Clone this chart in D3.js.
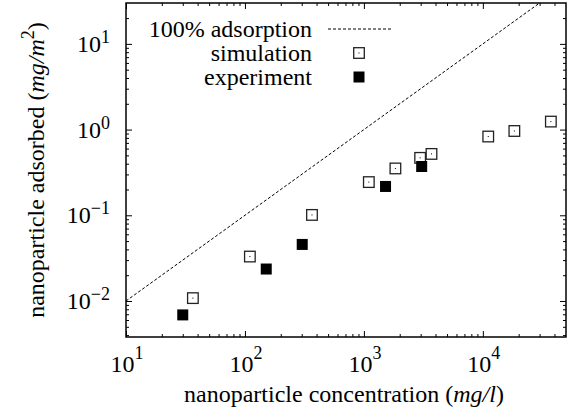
<!DOCTYPE html>
<html>
<head>
<meta charset="utf-8">
<script src="https://cdn.jsdelivr.net/npm/d3@7"></script>
<style>body{margin:0}</style>
</head>
<body>
<script>
// data
const simX = [36.5, 110, 366, 1100, 1840, 2970, 3700, 11100, 18400, 37300];
const simY = [0.0108, 0.033, 0.101, 0.244, 0.352, 0.468, 0.52, 0.83, 0.963, 1.24];
const expX = [30, 151, 303, 1520, 3060];
const expY = [0.00688, 0.0236, 0.0457, 0.217, 0.371];
// 100% adsorption line end points
const fullX = [10, 30000];
const fullY = [0.01, 30];

const xExps = [1, 2, 3, 4];
const yExps = [-2, -1, 0, 1];
const legendLabels = ["100% adsorption", "simulation", "experiment"];

const W = 574, H = 417;
const L = 126, R = 566, T = 3, B = 337;
const FONT = '"Liberation Serif", monospace';

const svg = d3.select("body").append("svg")
  .attr("width", W).attr("height", H);

const x = d3.scaleLog().domain([10, 5e4]).range([L, R]);
const y = d3.scaleLog().domain([0.0038, 30]).range([B, T]);

// minor tick values
function minors(scale) {
  const [a, b] = scale.domain();
  const out = [];
  for (let e = Math.floor(Math.log10(a)); e <= Math.ceil(Math.log10(b)); e++) {
    for (let m = 2; m <= 9; m++) {
      const v = m * Math.pow(10, e);
      if (v > a && v < b) out.push(v);
    }
  }
  return out;
}
const xMajor = xExps.map(e => Math.pow(10, e));
const yMajor = yExps.map(e => Math.pow(10, e));

function tickAxis(axisFn, scale, vals, size, tr) {
  svg.append("g")
    .attr("transform", tr)
    .call(axisFn(scale).tickValues(vals).tickSize(size).tickFormat(""))
    .call(g => g.select(".domain").remove())
    .call(g => g.selectAll("line").attr("stroke", "#000").attr("stroke-width", 1));
}
tickAxis(d3.axisBottom, x, xMajor, -6, `translate(0,${B})`);
tickAxis(d3.axisBottom, x, minors(x), -3, `translate(0,${B})`);
tickAxis(d3.axisTop, x, xMajor, -6, `translate(0,${T})`);
tickAxis(d3.axisTop, x, minors(x), -3, `translate(0,${T})`);
tickAxis(d3.axisLeft, y, yMajor, -6, `translate(${L},0)`);
tickAxis(d3.axisLeft, y, minors(y), -3, `translate(${L},0)`);
tickAxis(d3.axisRight, y, yMajor, -6, `translate(${R},0)`);
tickAxis(d3.axisRight, y, minors(y), -3, `translate(${R},0)`);

// frame
svg.append("rect")
  .attr("x", L).attr("y", T).attr("width", R - L).attr("height", B - T)
  .attr("fill", "none").attr("stroke", "#000").attr("stroke-width", 1.5);

// tick labels
const xl = svg.append("g").selectAll("text").data(xExps).enter().append("text")
  .attr("x", d => x(Math.pow(10, d)) + 1)
  .attr("y", B + 35)
  .attr("text-anchor", "middle")
  .attr("font-size", 24)
  .style("font-family", FONT);
xl.append("tspan").text("10");
xl.append("tspan").attr("dy", -13).attr("font-size", 18).text(d => d);

const yl = svg.append("g").selectAll("text").data(yExps).enter().append("text")
  .attr("x", 110)
  .attr("y", d => y(Math.pow(10, d)) + 8)
  .attr("text-anchor", "end")
  .attr("font-size", 24)
  .style("font-family", FONT);
yl.append("tspan").text("10");
yl.append("tspan").attr("dy", -9).attr("font-size", 18).text(d => d < 0 ? "\u2212" + (-d) : d);

// axis titles
const xt = svg.append("text")
  .attr("x", 344).attr("y", 402)
  .attr("text-anchor", "middle")
  .attr("font-size", 24)
  .style("font-family", FONT);
xt.append("tspan").text("nanoparticle concentration (");
xt.append("tspan").attr("font-style", "italic").text("mg/l");
xt.append("tspan").text(")");

const yt = svg.append("text")
  .attr("transform", `translate(43.5,${(T + B) / 2}) rotate(-90)`)
  .attr("text-anchor", "middle")
  .attr("font-size", 24)
  .style("font-family", FONT);
yt.append("tspan").text("nanoparticle adsorbed (");
yt.append("tspan").attr("font-style", "italic").text("mg/m");
yt.append("tspan").attr("dy", -10).attr("font-size", 18).text("2");
yt.append("tspan").attr("dy", 10).text(")");

// clip for plot contents
svg.append("clipPath").attr("id", "clip")
  .append("rect").attr("x", L).attr("y", T).attr("width", R - L).attr("height", B - T);
const plot = svg.append("g").attr("clip-path", "url(#clip)");

const line = d3.line().x(d => x(d[0])).y(d => y(d[1]));
plot.append("path")
  .datum(d3.zip(fullX, fullY))
  .attr("d", line)
  .attr("fill", "none").attr("stroke", "#000").attr("stroke-width", 1)
  .attr("stroke-dasharray", "3,2");

function openSquare(g, cx, cy) {
  g.append("rect").attr("x", cx - 5.3).attr("y", cy - 5.3).attr("width", 10.6).attr("height", 10.6)
    .attr("fill", "#fff").attr("stroke", "#222").attr("stroke-width", 1.3);
  g.append("rect").attr("x", cx - 0.5).attr("y", cy - 0.5).attr("width", 1).attr("height", 1)
    .attr("fill", "#000");
}
function filledSquare(g, cx, cy) {
  g.append("rect").attr("x", cx - 5.5).attr("y", cy - 5.5).attr("width", 11).attr("height", 11)
    .attr("fill", "#000");
}

d3.zip(simX, simY).forEach(d => openSquare(plot, x(d[0]), y(d[1])));
d3.zip(expX, expY).forEach(d => filledSquare(plot, x(d[0]), y(d[1])));

// legend
const legY = [29, 53, 77];
const leg = svg.append("g");
legendLabels.forEach((t, i) => {
  leg.append("text").attr("x", 312).attr("y", legY[i] + 8)
    .attr("text-anchor", "end")
    .attr("font-size", 24)
    .style("font-family", FONT)
    .text(t);
});
leg.append("line").attr("x1", 328).attr("x2", 391).attr("y1", legY[0]).attr("y2", legY[0])
  .attr("stroke", "#000").attr("stroke-width", 1).attr("stroke-dasharray", "3,2");
openSquare(leg, 359, legY[1]);
filledSquare(leg, 359, legY[2]);
</script>
</body>
</html>
